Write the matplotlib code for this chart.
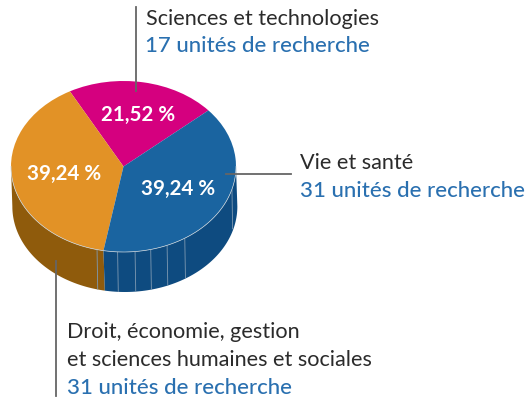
#!/usr/bin/python3

import numpy as np
import matplotlib
matplotlib.use("Agg")
import matplotlib.pyplot as pyplot

# data
sectors = ["Sciences et technologies", "Droit", "Vie et santé"]
shares = [21.52, 39.24, 39.24]
units = [17, 31, 31]

W, H = 529, 400
PINK, ORANGE, BLUE = "#d5007f", "#e29226", "#1a64a0"
WALL_ORANGE, WALL_BLUE = "#8f5b0c", "#0e4b80"
TXT_BLUE = "#2a70b0"
GREY = "#666666"
FONT = "Lato"

# ellipse of the top face, in pixels
cx, cy, rx, ry = 123.5, 166.5, 112.5, 85.5
depth = 40 / ry
START = 41

pyplot.rcParams["font.family"] = [FONT, "DejaVu Sans"]
fig = pyplot.figure(figsize=(W / 100, H / 100), dpi=100)

# pie axes, squashed so the circle becomes the ellipse
bottom_px = cy + ry + 40
ax = fig.add_axes([(cx - rx) / W, 1 - bottom_px / H, 2 * rx / W, (bottom_px - cy + ry) / H])

wedges, _ = ax.pie(shares, colors=[PINK, ORANGE, BLUE], startangle=START, radius=1,
                   wedgeprops=dict(linewidth=0), frame=True)
ax.set_aspect("auto")
ax.set_xlim(-1, 1)
ax.set_ylim(-1 - depth, 1)
ax.axis("off")
for w in wedges:
    w.set_zorder(5)
    w.set_clip_on(False)


def wall(a0, a1, color):
    t = np.radians(np.linspace(a0, a1, 80))
    x, y = np.cos(t), np.sin(t)
    ax.fill(np.r_[x, x[::-1] + 0.012], np.r_[y, y[::-1] - depth], color=color, lw=0,
            zorder=2, clip_on=False)


edges = START + np.cumsum(shares) * 3.6
wall(180, edges[1], WALL_ORANGE)
wall(edges[1], 360, WALL_BLUE)

# facets on the side
for a in [256.4, 267, 275.9, 284, 292.8, 303, 344.6]:
    t = np.radians(a)
    ax.plot([np.cos(t), np.cos(t) + 0.006], [np.sin(t), np.sin(t) - depth],
            color="#7f9ab2", lw=0.6, zorder=3, solid_capstyle="butt", clip_on=False)

# thin highlight round the front of the top face
t = np.radians(np.linspace(180, 360, 120))
ax.plot(np.cos(t), np.sin(t), color="#c9d3da", lw=0.5, zorder=6, clip_on=False)

# overlay in pixels for leaders and labels
ov = fig.add_axes([0, 0, 1, 1], facecolor="none")
ov.set_xlim(0, W)
ov.set_ylim(H, 0)
ov.axis("off")

ov.plot([136, 136], [7, 91], color=GREY, lw=1.3, zorder=8)
ov.plot([226, 291], [173.5, 173.5], color=GREY, lw=1.3, zorder=8)
ov.plot([56, 56], [261, 396], color=GREY, lw=1.3, zorder=8)


def pct(v):
    return f"{v:.2f}".replace(".", ",") + " %"


for v, (x, y) in zip(shares, [(138, 115), (64, 174), (178, 189)]):
    ov.text(x, y, pct(v), color="white", fontsize=14.8, fontweight="bold",
            ha="center", va="center", zorder=9)


def dark(x, y, s):
    ov.text(x, y, s, color="#2b2b2b", fontsize=15.6, fontweight="normal",
            ha="left", va="baseline", zorder=9)


def blue(x, y, n):
    ov.text(x, y, f"{n} unités de recherche", color=TXT_BLUE, fontsize=16,
            fontweight="medium", ha="left", va="baseline", zorder=9)


dark(146, 25, "Sciences et technologies")
blue(145, 52, units[0])
dark(300, 169, "Vie et santé")
blue(300, 197, units[2])
dark(67, 338, "Droit, économie, gestion")
dark(67, 366, "et sciences humaines et sociales")
blue(67, 394, units[1])

fig.savefig("out.png", dpi=100)
